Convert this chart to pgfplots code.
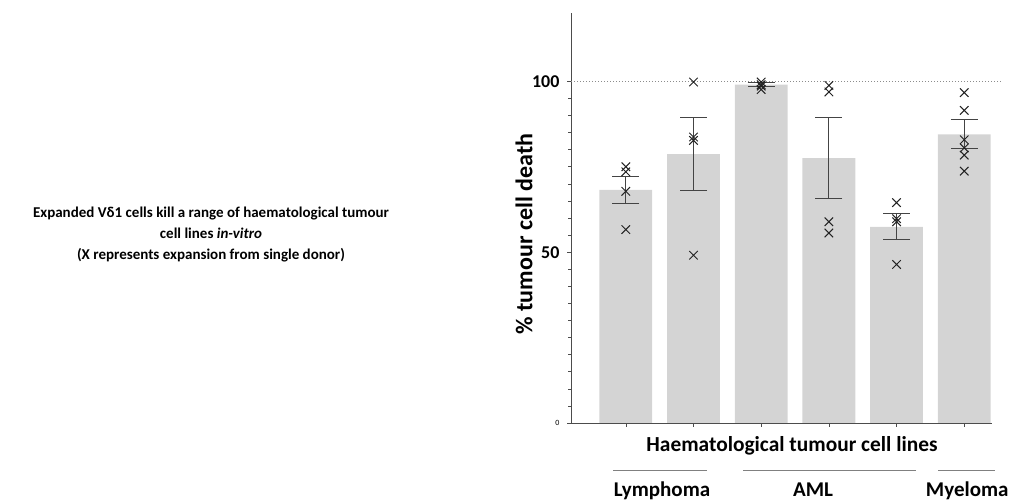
\documentclass[border=0pt]{standalone}
\usepackage{pgfplots}
\pgfplotsset{compat=1.18}
\usepackage{fontspec}
\setmainfont{Carlito}
\definecolor{barcol}{HTML}{D4D4D4}
\definecolor{errcol}{HTML}{444444}
\definecolor{xcol}{HTML}{222222}
\definecolor{grpline}{HTML}{808080}
\pgfplotstableread{
x mean err
0 68.2 4.0
1 78.7 10.7
2 99.0 0.6
3 77.5 11.8
4 57.4 3.8
5 84.5 4.2
}\bars
\pgfplotstableread{
x y
0 75.0
0 73.5
0 67.8
0 56.6
1 99.8
1 83.7
1 82.7
1 49.1
2 99.8
2 99.0
2 98.6
2 97.6
3 98.8
3 96.9
3 58.9
3 55.6
4 64.5
4 59.8
4 58.9
4 46.4
5 96.7
5 91.5
5 82.9
5 80.5
5 78.4
5 73.7
}\donors
\begin{document}
\begin{tikzpicture}[x=1pt,y=1pt]
\useasboundingbox (0,0) rectangle (1012,503);
\begin{axis}[
  at={(571pt,80pt)}, anchor=south west,
  scale only axis, width=421pt, height=410pt,
  xmin=-0.81, xmax=5.41, ymin=0, ymax=120,
  axis lines=left, axis line style={-, draw=black!70, line width=0.8pt},
  clip=false,
  xtick={0,1,2,3,4,5}, xticklabels={},
  ytick={0,50,100},
  yticklabels={{\fontsize{8}{9}\selectfont 0},{\fontsize{18}{20}\selectfont\bfseries 50},{\fontsize{18}{20}\selectfont\bfseries 100}},
  minor y tick num=9,
  tick align=outside,
  major tick length=4pt, minor tick length=3pt,
  tick style={draw=black!70, line width=0.6pt},
  yticklabel style={xshift=-4pt},
]
\draw[dotted, draw=black!45, line width=1pt] (axis cs:-0.81,100) -- (axis cs:5.56,100);
\addplot[ybar, bar width=0.78, fill=barcol, draw=none] table[x=x,y=mean]{\bars};
\addplot[draw=none, mark=none, forget plot,
  error bars/.cd, y dir=both, y explicit, error mark=|,
  error bar style={draw=errcol, line width=1pt},
  error mark options={draw=errcol, line width=1pt, mark size=13.5pt}]
  table[x=x,y=mean,y error=err]{\bars};
\addplot[only marks, mark=x, mark size=6pt, mark options={draw=xcol, line width=1pt}] table[x=x,y=y]{\donors};
\end{axis}
\node[rotate=90, font=\fontsize{24}{28}\selectfont\bfseries] at (524,269) {\% tumour cell death};
\node[anchor=base, font=\fontsize{21.4}{25}\selectfont\bfseries] at (792,51) {Haematological tumour cell lines};
\draw[grpline, line width=0.8pt] (613,33) -- (707,33);
\draw[grpline, line width=0.8pt] (743,33) -- (916,33);
\draw[grpline, line width=0.8pt] (938,33) -- (995,33);
\node[anchor=base, font=\fontsize{21}{25}\selectfont\bfseries] at (662,6) {Lymphoma};
\node[anchor=base, font=\fontsize{21}{25}\selectfont\bfseries] at (813,6) {AML};
\node[anchor=base east, font=\fontsize{21}{25}\selectfont\bfseries] at (1012,6) {Myeloma};
\node[font=\fontsize{15}{21}\selectfont\bfseries, align=center] at (211,268) {Expanded Vδ1 cells kill a range of haematological tumour\\cell lines \textit{in-vitro}\\(X represents expansion from single donor)};
\end{tikzpicture}
\end{document}
